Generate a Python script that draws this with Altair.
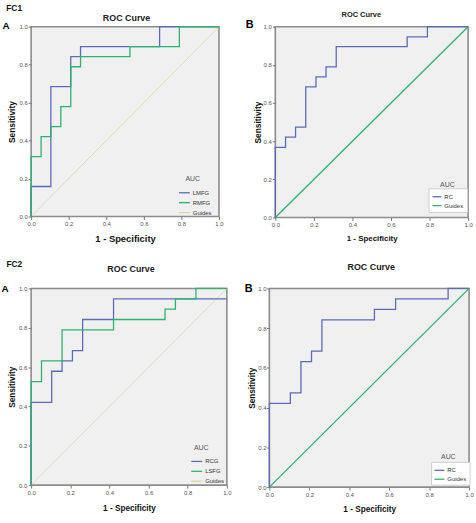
import altair as alt
import pandas as pd

FONT = "Liberation Sans"
BLUE = "#5a6bb8"
GREEN = "#2ab56d"
BEIGE = "#dcd5a6"
FRAME = "#8c8c8c"

# ROC coordinates (1 - specificity, sensitivity) at each threshold step
fc1_lmfg_fpr = [0.0, 0.0, 0.105, 0.211, 0.263, 0.684, 1.0]
fc1_lmfg_tpr = [0.0, 0.158, 0.684, 0.842, 0.895, 1.0, 1.0]
fc1_rmfg_fpr = [0.0, 0.0, 0.053, 0.105, 0.158, 0.211, 0.263, 0.526, 0.789, 1.0]
fc1_rmfg_tpr = [0.0, 0.316, 0.421, 0.474, 0.579, 0.789, 0.842, 0.895, 1.0, 1.0]
fc1_rc_fpr = [0.0, 0.0, 0.053, 0.105, 0.158, 0.211, 0.263, 0.316, 0.684, 0.789, 1.0]
fc1_rc_tpr = [0.0, 0.368, 0.421, 0.474, 0.684, 0.737, 0.789, 0.895, 0.947, 1.0, 1.0]
fc2_rcg_fpr = [0.0, 0.0, 0.105, 0.158, 0.211, 0.263, 0.421, 1.0]
fc2_rcg_tpr = [0.0, 0.421, 0.579, 0.632, 0.684, 0.842, 0.947, 0.947]
fc2_lsfg_fpr = [0.0, 0.0, 0.053, 0.158, 0.421, 0.684, 0.737, 0.842, 1.0]
fc2_lsfg_tpr = [0.0, 0.526, 0.632, 0.789, 0.842, 0.895, 0.947, 1.0, 1.0]
fc2_rc_fpr = [0.0, 0.0, 0.105, 0.158, 0.211, 0.263, 0.526, 0.632, 0.895, 1.0]
fc2_rc_tpr = [0.0, 0.421, 0.474, 0.632, 0.684, 0.842, 0.895, 0.947, 1.0, 1.0]

# reference diagonal
guide_fpr = [0.0, 1.0]
guide_tpr = [0.0, 1.0]

tick_values = [0.0, 0.2, 0.4, 0.6, 0.8, 1.0]
chart_title = "ROC Curve"
x_title = "1 - Specificity"
y_title = "Sensitivity"
legend_heading = "AUC"
guide_name = "Guides"


def roc_panel(curves, guide_color, guide_width, w, h, st):
    names = [c[0] for c in curves]
    colors = [c[3] for c in curves] + [guide_color]
    domain = names + [guide_name]
    roc = pd.concat(
        [pd.DataFrame({"fpr": f, "tpr": t, "series": n, "step": list(range(len(f)))})
         for n, f, t, _ in curves],
        ignore_index=True,
    )
    guide = pd.DataFrame({"fpr": guide_fpr, "tpr": guide_tpr, "series": guide_name})

    leg = dict(
        orient="none", legendX=st["lx"], legendY=st["ly"], title=None,
        symbolType="stroke", symbolSize=st["ls"], symbolStrokeWidth=1.3,
        labelFontSize=6, labelFont=FONT, labelColor="#333", labelOffset=2,
        rowPadding=st["lrp"], padding=st["lp"],
    )
    if st.get("box"):
        leg.update(fillColor="white", strokeColor="#cfcfcf")
    color = alt.Color("series:N", scale=alt.Scale(domain=domain, range=colors),
                      legend=alt.Legend(**leg))

    x = alt.X("fpr:Q", scale=alt.Scale(domain=[0, 1], nice=False),
              axis=alt.Axis(values=tick_values, format=".1f", title=x_title,
                            grid=False, domain=False, tickSize=3, tickColor="#777",
                            labelPadding=st["xlp"], labelFontSize=6, labelColor="#555",
                            labelFlush=False, labelFont=FONT,
                            titleFontSize=st["xfs"], titleFont=FONT, titleFontWeight="bold",
                            titleColor="#111", titlePadding=st["xtp"]))
    y = alt.Y("tpr:Q", scale=alt.Scale(domain=[0, 1], nice=False),
              axis=alt.Axis(values=tick_values, format=".1f", title=y_title,
                            grid=False, domain=False, tickSize=3, tickColor="#777",
                            labelPadding=st["ylp"], labelFontSize=6, labelColor="#555",
                            labelFlush=False, labelFont=FONT,
                            titleFontSize=st["yfs"], titleFont=FONT, titleFontWeight="bold",
                            titleColor="#111", titlePadding=st["ytp"]))

    guide_layer = alt.Chart(guide).mark_line(strokeWidth=guide_width).encode(x=x, y=y, color=color)
    roc_layer = alt.Chart(roc).mark_line(interpolate="step-after", strokeWidth=1.3).encode(
        x=x, y=y, color=color, order="step:Q")

    layers = [guide_layer, roc_layer]
    for text, tx, ty, fs, weight, col, align in st["texts"]:
        layers.append(
            alt.Chart(pd.DataFrame({"label": [text]}))
            .mark_text(align=align, baseline="middle",
                       fontSize=fs, fontWeight=weight, font=FONT, color=col)
            .encode(text="label:N", x=alt.value(tx), y=alt.value(ty))
        )
    return alt.layer(*layers).properties(width=w, height=h)


fc1_a = roc_panel(
    [("LMFG", fc1_lmfg_fpr, fc1_lmfg_tpr, BLUE), ("RMFG", fc1_rmfg_fpr, fc1_rmfg_tpr, GREEN)],
    BEIGE, 0.8, 190, 192,
    dict(lx=148.5, ly=161.5, ls=121, lrp=-3, lp=0,
         xlp=1, ylp=1, xfs=9.5, yfs=8.5, xtp=7, ytp=2.4,
         texts=[("FC1", -25.2, -19, 8.5, "bold", "#111", "left"),
                ("A", -29, -0.2, 10, "bold", "#000", "left"),
                (chart_title, 96.5, -9, 9, "bold", "#222", "center"),
                (legend_heading, 163.5, 154, 7, "normal", "#555", "center")]),
)
fc1_b = roc_panel(
    [("RC", fc1_rc_fpr, fc1_rc_tpr, BLUE)],
    GREEN, 1.3, 195, 193,
    dict(lx=155, ly=163.5, ls=81, lrp=-1, lp=3, box=True,
         xlp=1.5, ylp=1, xfs=8, yfs=8.5, xtp=6.8, ytp=1,
         texts=[("B", -30, -1.2, 11, "bold", "#000", "left"),
                (chart_title, 87, -12, 7.5, "bold", "#222", "center"),
                (legend_heading, 174, 160, 7, "normal", "#555", "center")]),
)
fc2_a = roc_panel(
    [("RCG", fc2_rcg_fpr, fc2_rcg_tpr, BLUE), ("LSFG", fc2_lsfg_fpr, fc2_lsfg_tpr, GREEN)],
    BEIGE, 0.8, 198, 199,
    dict(lx=161, ly=168.5, ls=121, lrp=-3, lp=0,
         xlp=1, ylp=1.5, xfs=8.3, yfs=8.3, xtp=8.4, ytp=1.8,
         texts=[("FC2", -25, -24.3, 8.5, "bold", "#111", "left"),
                ("A", -30, 1, 10, "bold", "#000", "left"),
                (chart_title, 101, -20, 9, "bold", "#222", "center"),
                (legend_heading, 172, 161, 7, "normal", "#555", "center")]),
)
fc2_b = roc_panel(
    [("RC", fc2_rc_fpr, fc2_rc_tpr, BLUE)],
    GREEN, 1.3, 202, 201,
    dict(lx=163.5, ly=175.5, ls=100, lrp=-1, lp=2.5, box=True,
         xlp=1.4, ylp=0.5, xfs=8.3, yfs=8.3, xtp=7.4, ytp=1.4,
         texts=[("B", -25, 1, 11, "bold", "#000", "left"),
                (chart_title, 103, -22, 9, "bold", "#222", "center"),
                (legend_heading, 181, 171, 7, "normal", "#555", "center")]),
)

row1 = alt.hconcat(fc1_a, fc1_b, spacing=57, bounds="flush").resolve_scale(
    color="independent").resolve_legend(color="independent")
row2 = alt.hconcat(fc2_a, fc2_b, spacing=43, bounds="flush").resolve_scale(
    color="independent").resolve_legend(color="independent")

chart = (
    alt.vconcat(row1, row2, spacing=14.75)
    .resolve_scale(color="independent")
    .resolve_legend(color="independent")
    .properties(padding={"left": 0.5, "top": 0, "right": 2, "bottom": 2}, background="white")
    .configure(font=FONT)
    .configure_view(fill="#f0f0f0", stroke=FRAME, strokeWidth=1.6)
)

chart.save("out.html", embed_options={"renderer": "svg", "actions": False})
